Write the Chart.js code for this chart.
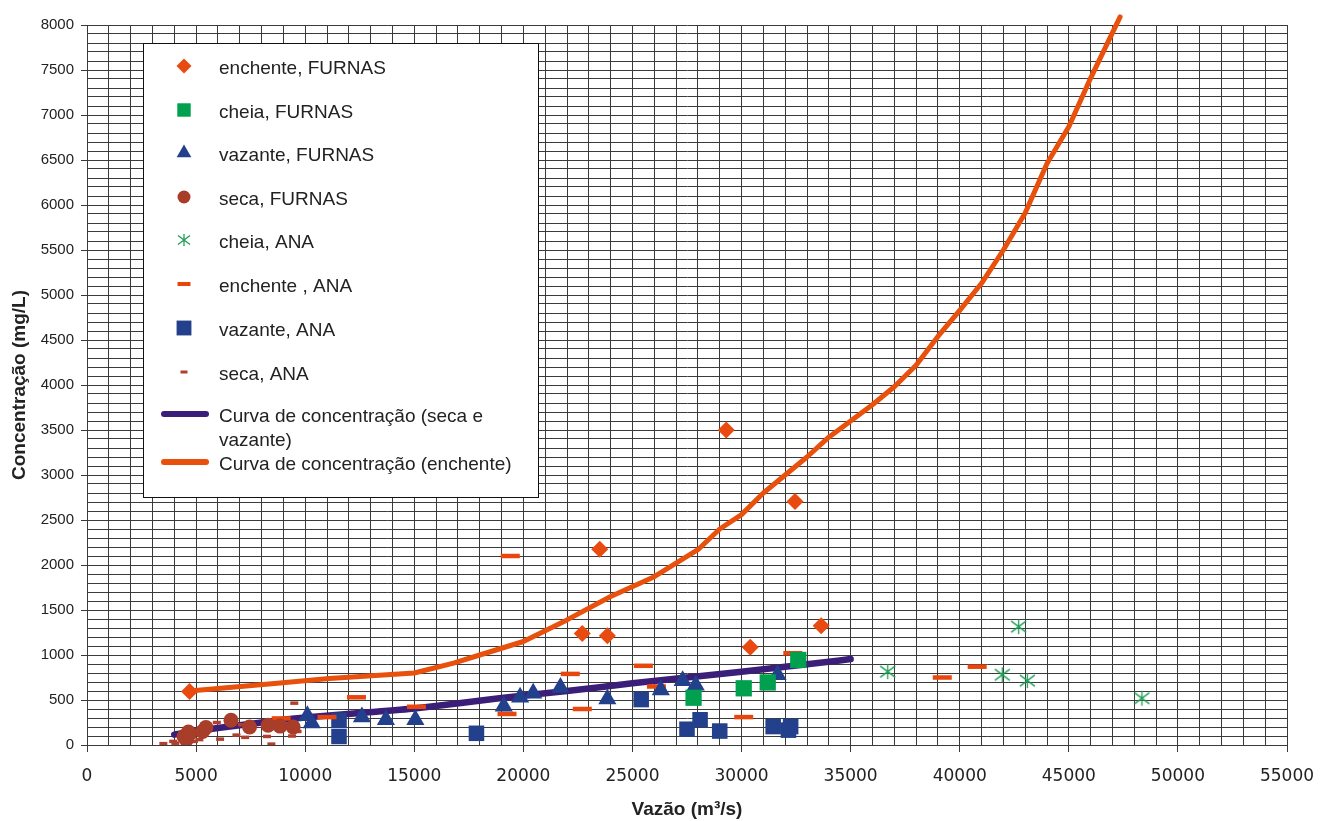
<!DOCTYPE html>
<html>
<head>
<meta charset="utf-8">
<script src="https://cdn.jsdelivr.net/npm/chart.js@4.4.1/dist/chart.umd.min.js"></script>
<style>
	html, body { margin: 0; padding: 0; background: #fff; }
</style>
</head>
<body>
<canvas id="myChart" width="1321" height="821"></canvas>
<script>
// points: [vazão, concentração]
const enchenteFurnas = [
	[4700, 595], [22700, 1240], [23500, 2175], [23850, 1215],
	[29300, 3500], [30400, 1085], [32450, 2705], [33650, 1325],
];
const cheiaFurnas = [[27800, 525], [30100, 630], [31200, 695], [32600, 945]];
const vazanteFurnas = [
	[10100, 325], [10300, 245], [12600, 310], [13700, 280], [15050, 280],
	[19100, 430], [19850, 530], [20450, 575], [21700, 640], [23850, 510],
	[26300, 610], [27300, 715], [27900, 665], [31650, 780],
];
const secaFurnas = [
	[4450, 95], [4550, 60], [4650, 145], [4700, 125], [5300, 150], [5450, 195],
	[6600, 275], [7450, 200], [8300, 220], [8850, 210], [9450, 200],
];
const cheiaAna = [[36700, 815], [41950, 780], [42700, 1315], [43100, 715], [48350, 520]];
const enchenteAna = [
	[8900, 295], [11000, 310], [12350, 530], [15100, 425], [19250, 345],
	[19400, 2100], [22150, 790], [22700, 400], [25500, 880], [26100, 650],
	[30100, 310], [32350, 1020], [39200, 750], [40800, 870],
];
const vazanteAna = [
	[11550, 275], [11550, 95], [17850, 130], [25400, 505], [27500, 175],
	[28100, 280], [29000, 155], [31450, 205], [32150, 165], [32250, 205],
];
const secaAna = [
	[3500, 15], [3950, 40], [4050, 20], [4350, 60], [4650, 30], [4900, 40],
	[5150, 60], [5950, 250], [6100, 65], [6850, 110], [7100, 225], [7250, 85],
	[8250, 95], [8450, 10], [9400, 100], [9500, 465], [9650, 150],
];
const curvaSecaVazante = [
	[4000, 115], [5000, 155], [7000, 220], [8850, 275], [10000, 305],
	[12500, 355], [15000, 405], [18900, 520], [22000, 600], [25000, 685],
	[30000, 815], [34000, 925], [35000, 955],
];
const curvaEnchente = [
	[4700, 600], [8850, 690], [11100, 740], [15000, 800], [16800, 910],
	[18000, 1000], [20000, 1150], [22000, 1390], [24000, 1650], [26000, 1870],
	[27000, 2020], [28000, 2170], [29000, 2400], [30000, 2560], [31000, 2800],
	[32000, 3000], [33000, 3200], [34000, 3420], [35000, 3600], [36000, 3780],
	[37000, 3980], [38000, 4220], [39000, 4540], [40000, 4830], [41000, 5130],
	[42000, 5500], [43000, 5910], [44000, 6460], [45000, 6870], [46000, 7410],
	[47350, 8090],
];

const legendLabels = [
	"enchente, FURNAS", "cheia, FURNAS", "vazante, FURNAS", "seca, FURNAS",
	"cheia, ANA", "enchente , ANA", "vazante, ANA", "seca, ANA",
	"Curva de concentração (seca e|vazante)", "Curva de concentração (enchente)",
];

function toXY(arr) {
	return arr.map((p) => ({ x: p[0], y: p[1] }));
}

// Excel-like asterisk marker
function makeAsterisk(size, color) {
	const c = document.createElement("canvas");
	c.width = size;
	c.height = size;
	const g = c.getContext("2d");
	g.strokeStyle = color;
	g.lineWidth = 1.3;
	const m = size / 2;
	const r = size / 2 - 1;
	g.beginPath();
	g.moveTo(m, m - r);
	g.lineTo(m, m + r);
	g.moveTo(m - r, m - r * 0.75);
	g.lineTo(m + r, m + r * 0.75);
	g.moveTo(m - r, m + r * 0.75);
	g.lineTo(m + r, m - r * 0.75);
	g.stroke();
	return c;
}

const asterisk = makeAsterisk(17, "#1f9e55");
const asteriskSmall = makeAsterisk(14, "#1f9e55");

function scatterSet(label, pts, style, color, radius, legendRadius, extra) {
	return Object.assign({
		label: label,
		data: toXY(pts),
		pointStyle: style,
		pointRadius: radius,
		pointHoverRadius: radius,
		backgroundColor: color,
		borderColor: color,
		pointBorderWidth: 0,
		showLine: false,
		legendRadius: legendRadius,
		order: 0,
	}, extra || {});
}

const datasets = [
	scatterSet(legendLabels[0], enchenteFurnas, "rectRot", "#e84a10", 8.5, 7.5),
	scatterSet(legendLabels[1], cheiaFurnas, "rect", "#00a04e", 11.5, 9.5),
	scatterSet(legendLabels[2], vazanteFurnas, "triangle", "#22408c", 10.5, 8.5),
	scatterSet(legendLabels[3], secaFurnas, "circle", "#a83d2a", 7.5, 6.5),
	scatterSet(legendLabels[4], cheiaAna, asterisk, "#1f9e55", 8, 7, { legendImage: asteriskSmall }),
	scatterSet(legendLabels[5], enchenteAna, "line", "#e8460c", 9.5, 6.5, { pointBorderWidth: 4.5, legendBorder: 4 }),
	scatterSet(legendLabels[6], vazanteAna, "rect", "#22408c", 11, 10.5),
	scatterSet(legendLabels[7], secaAna, "line", "#b0402c", 4, 3.5, { pointBorderWidth: 3.5, legendBorder: 3 }),
	{
		label: legendLabels[8],
		data: toXY(curvaSecaVazante),
		showLine: true,
		borderColor: "#3b1e78",
		backgroundColor: "#3b1e78",
		borderWidth: 6.5,
		borderCapStyle: "round",
		borderJoinStyle: "round",
		pointRadius: 0,
		pointHoverRadius: 0,
		tension: 0.2,
		order: 1,
	},
	{
		label: legendLabels[9],
		data: toXY(curvaEnchente),
		showLine: true,
		borderColor: "#e8500c",
		backgroundColor: "#e8500c",
		borderWidth: 5,
		borderCapStyle: "round",
		borderJoinStyle: "round",
		pointRadius: 0,
		pointHoverRadius: 0,
		tension: 0,
		clip: 12,
		order: 1,
	},
];

// legend box drawn inside the plot, like the original
const boxLegend = {
	id: "boxLegend",
	afterDraw(chart) {
		const ctx = chart.ctx;
		const rows = [66, 110, 153, 197, 240, 284, 328, 372, 414, 462];
		ctx.save();
		ctx.fillStyle = "#fff";
		ctx.fillRect(143, 43, 395, 454);
		ctx.strokeStyle = "#111";
		ctx.lineWidth = 1;
		ctx.strokeRect(143.5, 43.5, 395, 454);

		chart.data.datasets.forEach((ds, i) => {
			const y = rows[i];
			if (ds.showLine) {
				ctx.strokeStyle = ds.borderColor;
				ctx.lineWidth = 6;
				ctx.lineCap = "round";
				ctx.beginPath();
				ctx.moveTo(164, y);
				ctx.lineTo(206, y);
				ctx.stroke();
			} else if (ds.legendImage) {
				const img = ds.legendImage;
				ctx.drawImage(img, 184 - img.width / 2, y - img.height / 2);
			} else {
				ctx.fillStyle = ds.backgroundColor;
				ctx.strokeStyle = ds.borderColor;
				ctx.lineWidth = ds.legendBorder || 0;
				Chart.helpers.drawPoint(ctx, {
					pointStyle: ds.pointStyle,
					radius: ds.legendRadius,
					rotation: 0,
					borderWidth: ds.legendBorder || 0,
				}, 184, y);
			}
			ctx.fillStyle = "#222";
			ctx.font = "19px 'Liberation Sans', Arial, sans-serif";
			ctx.textBaseline = "middle";
			ctx.textAlign = "left";
			const lines = ds.label.split("|");
			lines.forEach((t, k) => {
				ctx.fillText(t, 219, y + 3 + k * 24);
			});
		});
		ctx.restore();
	},
};

const gridColor = "#3a3a3a";

new Chart(document.getElementById("myChart"), {
	type: "scatter",
	data: { datasets: datasets },
	options: {
		responsive: false,
		animation: false,
		layout: { padding: { left: 0, top: 25, right: 34, bottom: 0 } },
		plugins: {
			legend: { display: false },
			tooltip: { enabled: false },
		},
		scales: {
			x: {
				type: "linear",
				min: 0,
				max: 55000,
				ticks: {
					stepSize: 1000,
					maxTicksLimit: 100,
					autoSkip: false,
					maxRotation: 0,
					padding: 14,
					color: "#222",
					font: { family: "'DejaVu Sans', sans-serif", size: 17 },
					callback: (v) => (v % 5000 === 0 ? String(v) : ""),
				},
				grid: {
					color: gridColor,
					lineWidth: 1,
					tickLength: 7,
					tickColor: (c) => (c.tick && c.tick.value % 5000 === 0 ? gridColor : "rgba(0,0,0,0)"),
				},
				border: { color: gridColor },
				title: {
					display: true,
					text: "Vazão (m³/s)",
					color: "#222",
					font: { family: "'Liberation Sans', Arial, sans-serif", size: 19, weight: "bold" },
					padding: { top: 0, bottom: 0 },
				},
				afterFit: (s) => {
					s.height = 76;
					// the layout padding already leaves room for the last label
					s.paddingLeft = 0;
					s.paddingRight = 0;
				},
			},
			y: {
				type: "linear",
				min: 0,
				max: 8000,
				ticks: {
					stepSize: 100,
					maxTicksLimit: 100,
					autoSkip: false,
					padding: 7,
					color: "#222",
					font: { family: "'Liberation Sans', Arial, sans-serif", size: 15 },
					callback: (v) => (v % 500 === 0 ? String(v) : ""),
				},
				grid: {
					color: gridColor,
					lineWidth: 1,
					tickLength: 6,
					tickColor: (c) => (c.tick && c.tick.value % 500 === 0 ? gridColor : "rgba(0,0,0,0)"),
				},
				border: { color: gridColor },
				title: {
					display: true,
					text: "Concentração (mg/L)",
					color: "#222",
					font: { family: "'Liberation Sans', Arial, sans-serif", size: 19, weight: "bold" },
					padding: { top: 8, bottom: 0 },
				},
				afterFit: (s) => {
					s.width = 87;
				},
			},
		},
	},
	plugins: [boxLegend],
});
</script>
</body>
</html>
